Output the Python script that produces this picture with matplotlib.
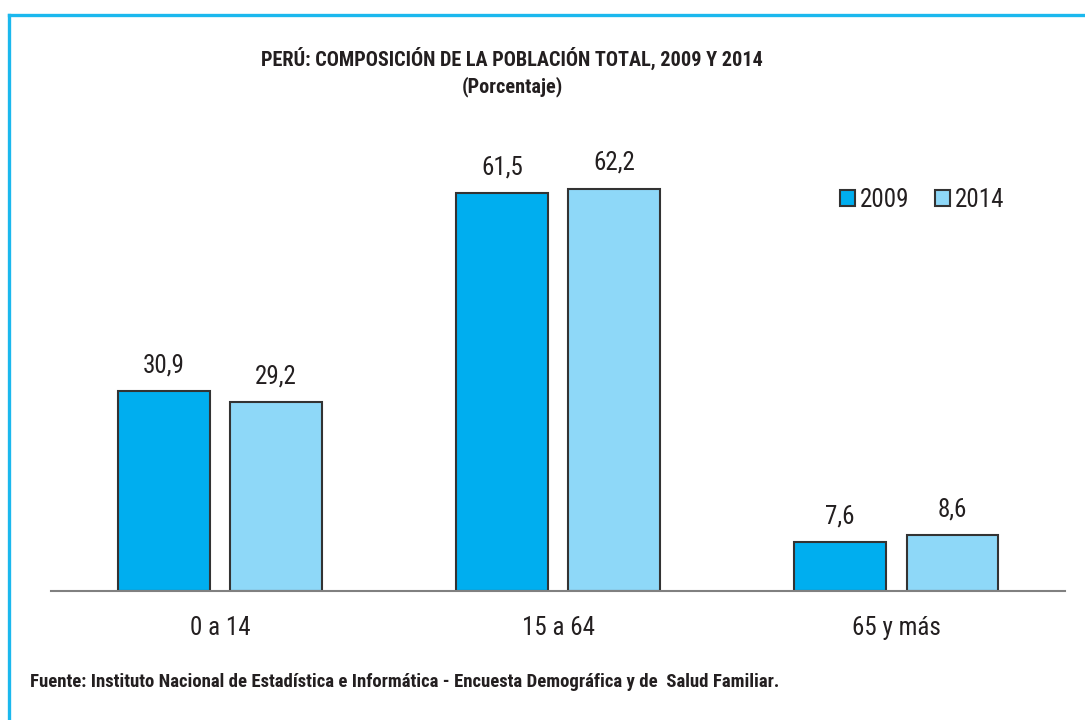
import numpy as np
import matplotlib
matplotlib.use('Agg')
import matplotlib.pyplot as plt
from matplotlib.lines import Line2D

plt.rcParams['font.family'] = ['Roboto Condensed', 'Liberation Sans', 'DejaVu Sans']

# Data
categories = ['0 a 14', '15 a 64', '65 y más']
years = ['2009', '2014']
values_2009 = [30.9, 61.5, 7.6]
values_2014 = [29.2, 62.2, 8.6]

colors = ['#00AEEF', '#8ED8F8']
edge = '#333333'

fig = plt.figure(figsize=(10.85, 7.2), dpi=100)
ax = fig.add_axes([0.047, 0.179, 0.9346, 0.629])

x = np.arange(len(categories))
w = 0.27
off = 0.166

b1 = ax.bar(x - off, values_2009, w, color=colors[0], edgecolor=edge, linewidth=1.5, label=years[0])
b2 = ax.bar(x + off, values_2014, w, color=colors[1], edgecolor=edge, linewidth=1.5, label=years[1])

for bars, vals in [(b1, values_2009), (b2, values_2014)]:
    for rect, v in zip(bars, vals):
        ax.annotate(f'{v:.1f}'.replace('.', ','), (rect.get_x() + rect.get_width() / 2, v),
                    xytext=(0, 10), textcoords='offset points', ha='center', va='bottom',
                    fontsize=18, color='#231f20')

ax.set_xlim(-0.5, 2.5)
ax.set_ylim(0, 70)
ax.set_xticks(x)
ax.set_xticklabels(categories, fontsize=18, color='#231f20')
ax.tick_params(axis='x', length=0, pad=18)
ax.set_yticks([])
for s in ['top', 'right', 'left']:
    ax.spines[s].set_visible(False)
ax.spines['bottom'].set_color('#808080')
ax.spines['bottom'].set_linewidth(1.5)

fig.legend(loc='center left', bbox_to_anchor=(840 / 1085, 1 - 200 / 720), ncol=2, frameon=False,
           fontsize=18, handlelength=0.6, handleheight=0.6, handletextpad=0.2,
           columnspacing=1.0, borderpad=0, borderaxespad=0, labelcolor='#231f20')

fig.text(0.472, 1 - 58 / 720, 'PERÚ: COMPOSICIÓN DE LA POBLACIÓN TOTAL, 2009 Y 2014',
         ha='center', va='center', fontsize=14.6, fontweight='bold', color='#231f20')
fig.text(0.472, 1 - 87 / 720, '(Porcentaje)',
         ha='center', va='center', fontsize=14.6, fontweight='bold', color='#231f20')

fig.text(30 / 1085, 1 - 682 / 720,
         'Fuente: Instituto Nacional de Estadística e Informática - Encuesta Demográfica y de  Salud Familiar.',
         ha='left', va='center', fontsize=13.5, fontweight='bold', color='#231f20')

# cyan frame on top and left
fig.add_artist(Line2D([9 / 1085, 1], [1 - 15 / 720, 1 - 15 / 720], color='#1BB8EE', linewidth=2.4))
fig.add_artist(Line2D([9 / 1085, 9 / 1085], [0, 1 - 15 / 720], color='#1BB8EE', linewidth=2.4))

fig.savefig('out.png', dpi=100)
